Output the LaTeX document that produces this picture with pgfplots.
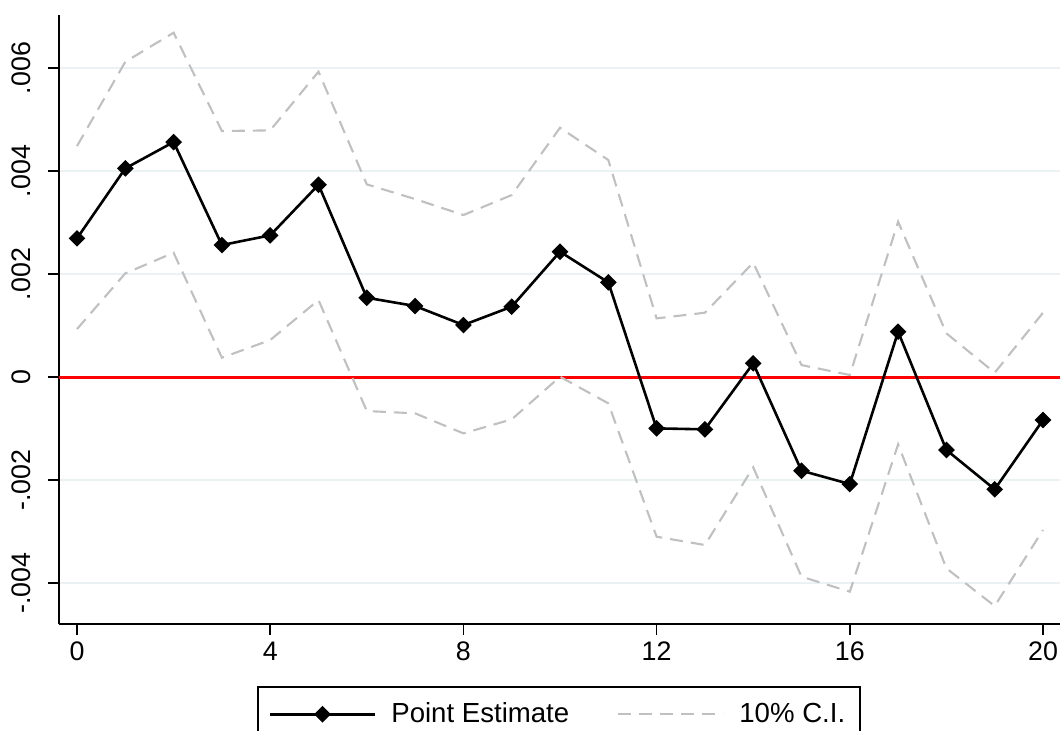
\documentclass[border=0pt]{standalone}
\usepackage{fontspec}
\setmainfont{Liberation Sans}
\usepackage{pgfplots}
\usepackage{pgfplotstable}
\pgfplotsset{compat=1.18}
\definecolor{cigray}{RGB}{192,192,192}
\definecolor{gridc}{RGB}{234,242,243}
\pgfplotstableread{
x pe lo hi
0 0.002693 0.000932 0.004485
1 0.004052 0.002013 0.006122
2 0.004563 0.002414 0.006686
3 0.002563 0.000375 0.004777
4 0.002751 0.000718 0.004790
5 0.003734 0.001495 0.005929
6 0.001540 -0.000660 0.003741
7 0.001379 -0.000705 0.003456
8 0.001010 -0.001094 0.003146
9 0.001366 -0.000822 0.003534
10 0.002434 0.000006 0.004841
11 0.001838 -0.000511 0.004214
12 -0.000997 -0.003101 0.001139
13 -0.001016 -0.003262 0.001249
14 0.000266 -0.001754 0.002220
15 -0.001819 -0.003877 0.000233
16 -0.002078 -0.004168 0.000039
17 0.000880 -0.001307 0.003016
18 -0.001417 -0.003715 0.000848
19 -0.002181 -0.004447 0.000084
20 -0.000835 -0.002971 0.001249
}\datatable
\begin{document}
\begin{tikzpicture}
\begin{axis}[
  at={(0pt,0pt)}, anchor=south west,
  scale only axis, width=500.5pt, height=304.5pt,
  xmin=-0.3727, xmax=20.352, ymin=-0.004796, ymax=0.00703,
  axis lines=left, axis line style={-, line width=0.85pt, black},
  scaled ticks=false,
  /pgf/number format/assume math mode=true,
  xtick={0,4,8,12,16,20}, xticklabels={0,4,8,12,16,20},
  ytick={-0.004,-0.002,0,0.002,0.004,0.006},
  yticklabels={-.004,-.002,0,.002,.004,.006},
  tick align=outside, major tick length=5.5pt,
  tick style={line width=0.85pt, black},
  ymajorgrids, grid style={gridc, line width=0.8pt},
  yticklabel shift=5pt,
  yticklabel style={rotate=90, anchor=south, font=\fontsize{13.4}{15}\selectfont},
  xticklabel style={anchor=north, font=\fontsize{13.4}{15}\selectfont},
  legend columns=2,
  legend image code/.code={\draw[mark repeat=2,mark phase=2,#1] plot coordinates {(0pt,0pt) (26.25pt,0pt) (52.5pt,0pt)};},
  legend style={at={(0.1978,-0.1018)}, anchor=north west, draw=black, line width=0.75pt,
    inner xsep=5.5pt, inner ysep=6pt, font=\fontsize{13.8}{16}\selectfont,
    cells={anchor=west, inner xsep=0pt, text height=10pt, text depth=3pt},
    /tikz/every odd column/.append style={column sep=5.5pt},
    /tikz/every even column/.append style={column sep=22pt}},
]
\addplot[red, line width=1.5pt, forget plot] coordinates {(-0.3727,0) (20.352,0)};
\addplot[cigray, line width=1.05pt, dash pattern=on 6.5pt off 4pt, forget plot] table[x=x, y=hi] {\datatable};
\addplot[cigray, line width=1.05pt, dash pattern=on 6.5pt off 4pt, forget plot] table[x=x, y=lo] {\datatable};
\addplot[black, line width=1.3pt, mark=square*, mark size=2.3pt, mark options={rotate=45, solid}] table[x=x, y=pe] {\datatable};
\addlegendentry{Point Estimate}
\addlegendimage{cigray, line width=1.05pt, dash pattern=on 6.5pt off 4pt}
\addlegendentry{10\% C.I.}
\end{axis}
\pgfresetboundingbox
\path[use as bounding box] (-29.5pt,-53pt) rectangle (500.5pt,312pt);
\end{tikzpicture}
\end{document}
